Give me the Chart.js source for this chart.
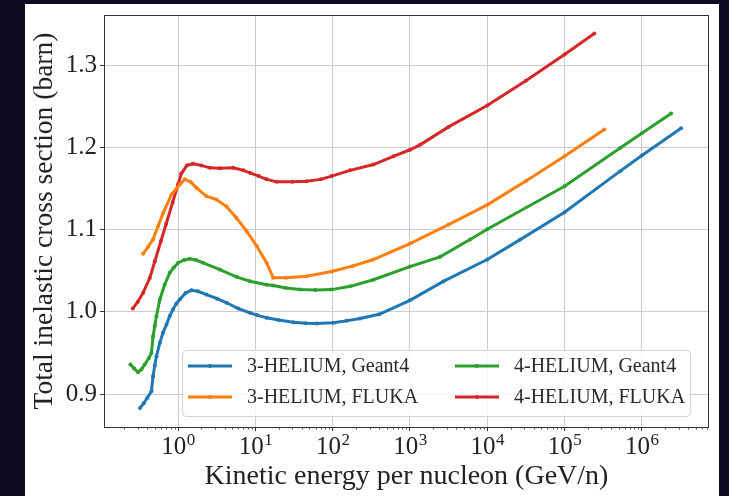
<!DOCTYPE html>
<html>
<head>
<meta charset="utf-8">
<script src="https://cdn.jsdelivr.net/npm/chart.js@4/dist/chart.umd.min.js"></script>
<style>
  html, body { margin: 0; padding: 0; background: #0c0b1f; overflow: hidden; }
  canvas { display: block; }
</style>
</head>
<body>
<canvas id="chart" width="729" height="496"></canvas>
<script>
// Kinetic energy per nucleon (GeV/n) and total inelastic cross section (barn)
const he3Geant4E = [0.322, 0.36, 0.40, 0.452, 0.474, 0.50, 0.525, 0.58, 0.64, 0.708, 0.78, 0.86, 0.95, 1.05, 1.25, 1.49, 1.8, 2.33, 3.2, 4.24, 6.0, 8.5, 10.5, 14, 20, 31, 45, 62, 102, 150, 226, 400, 1000, 2700, 1e4, 2.67e4, 1e5, 5.25e5, 1e6, 3.22e6];
const he3Geant4 = [0.883, 0.889, 0.8955, 0.9035, 0.9217, 0.935, 0.946, 0.9623, 0.975, 0.9846, 0.995, 1.003, 1.010, 1.015, 1.023, 1.0262, 1.025, 1.021, 1.016, 1.011, 1.004, 0.9988, 0.996, 0.9927, 0.990, 0.9874, 0.986, 0.9858, 0.9866, 0.989, 0.992, 0.997, 1.014, 1.037, 1.0636, 1.0878, 1.121, 1.171, 1.190, 1.2231];

const he3FlukaE = [0.352, 0.41, 0.474, 0.55, 0.64, 0.82, 1.05, 1.22, 1.45, 1.73, 2.33, 3.14, 4.24, 5.7, 7.7, 10.4, 14, 17, 25, 46, 97, 180, 336, 1000, 3160, 1e4, 3.16e4, 1e5, 3.27e5];
const he3Fluka = [1.0705, 1.079, 1.088, 1.104, 1.120, 1.1425, 1.1547, 1.161, 1.158, 1.1507, 1.1405, 1.1365, 1.128, 1.114, 1.098, 1.080, 1.0595, 1.0413, 1.0415, 1.0433, 1.049, 1.0555, 1.0636, 1.083, 1.106, 1.130, 1.159, 1.189, 1.2215];

const he4Geant4E = [0.242, 0.27, 0.303, 0.335, 0.371, 0.42, 0.452, 0.474, 0.50, 0.525, 0.58, 0.67, 0.78, 0.88, 1.0, 1.2, 1.42, 1.7, 2.11, 3.47, 5.7, 8.5, 14, 17, 25, 37.7, 60, 97, 170, 336, 1000, 2450, 6000, 1e4, 1e5, 5.25e5, 1e6, 2.39e6];
const he4Geant4 = [0.936, 0.931, 0.9266, 0.930, 0.936, 0.944, 0.950, 0.970, 0.983, 0.9947, 1.015, 1.033, 1.0474, 1.054, 1.0595, 1.063, 1.0644, 1.063, 1.0595, 1.0514, 1.0425, 1.0372, 1.033, 1.032, 1.029, 1.027, 1.0265, 1.027, 1.031, 1.039, 1.055, 1.0668, 1.088, 1.1004, 1.1526, 1.199, 1.217, 1.241];

const he4FlukaE = [0.259, 0.30, 0.352, 0.43, 0.5, 0.6, 0.7, 0.85, 1.0, 1.1, 1.3, 1.56, 2.0, 2.57, 3.5, 5.16, 7.0, 8.5, 11, 14, 18.8, 30, 46, 70, 97, 168, 336, 610, 1000, 1350, 3160, 1e4, 3.16e4, 1e5, 2.43e5];
const he4Fluka = [1.004, 1.012, 1.023, 1.041, 1.0615, 1.086, 1.1068, 1.133, 1.155, 1.168, 1.178, 1.180, 1.178, 1.175, 1.1745, 1.175, 1.172, 1.169, 1.165, 1.161, 1.158, 1.158, 1.1587, 1.161, 1.165, 1.172, 1.179, 1.189, 1.197, 1.203, 1.2248, 1.2507, 1.281, 1.3127, 1.3382];

const seriesLabels = ['3-HELIUM, Geant4', '3-HELIUM, FLUKA', '4-HELIUM, Geant4', '4-HELIUM, FLUKA'];
const xTickValues = [1, 10, 100, 1000, 1e4, 1e5, 1e6];
const yTickValues = [0.9, 1.0, 1.1, 1.2, 1.3];
const xTitle = 'Kinetic energy per nucleon (GeV/n)';
const yTitle = 'Total inelastic cross section (barn)';

const colors = ['#1f77b4', '#ff7f0e', '#2ca02c', '#d62728'];
const SERIF = "'Liberation Serif', 'Times New Roman', serif";

function pairs(xs, ys) { return xs.map((x, i) => ({ x: x, y: ys[i] })); }

const seriesData = [
  pairs(he3Geant4E, he3Geant4),
  pairs(he3FlukaE, he3Fluka),
  pairs(he4Geant4E, he4Geant4),
  pairs(he4FlukaE, he4Fluka)
];

// Page backdrop, axes frame, minor ticks, power-of-ten labels and the legend
const decorations = {
  id: 'decorations',
  beforeDraw(chart) {
    const ctx = chart.ctx;
    ctx.save();
    ctx.fillStyle = '#0c0b1f';
    ctx.fillRect(0, 0, chart.width, chart.height);
    ctx.fillStyle = '#ffffff';
    ctx.fillRect(25, 4, 694, 492);
    ctx.restore();
  },
  afterDraw(chart) {
    const ctx = chart.ctx;
    const a = chart.chartArea;
    const xs = chart.scales.x;
    ctx.save();

    // minor ticks on the log axis
    ctx.strokeStyle = '#333333';
    ctx.lineWidth = 0.8;
    for (let k = -2; k <= 7; k++) {
      for (let m = 2; m <= 9; m++) {
        const v = m * Math.pow(10, k);
        if (v < xs.min || v > xs.max) continue;
        const px = Math.round(xs.getPixelForValue(v)) + 0.5;
        ctx.beginPath();
        ctx.moveTo(px, a.bottom);
        ctx.lineTo(px, a.bottom + 2.5);
        ctx.stroke();
      }
    }

    // frame
    ctx.strokeStyle = '#333333';
    ctx.lineWidth = 1;
    ctx.strokeRect(a.left + 0.5, a.top + 0.5, a.right - a.left - 1, a.bottom - a.top);

    // x tick labels as 10 with a raised exponent
    ctx.fillStyle = '#222222';
    ctx.textBaseline = 'alphabetic';
    ctx.textAlign = 'left';
    xs.ticks.forEach(t => {
      const exp = String(Math.round(Math.log10(t.value)));
      ctx.font = '25px ' + SERIF;
      const w1 = ctx.measureText('10').width;
      ctx.font = '17px ' + SERIF;
      const w2 = ctx.measureText(exp).width;
      const px = xs.getPixelForValue(t.value);
      const start = px - (w1 + w2) / 2;
      ctx.font = '25px ' + SERIF;
      ctx.fillText('10', start, a.bottom + 27);
      ctx.font = '17px ' + SERIF;
      ctx.fillText(exp, start + w1 + 0.5, a.bottom + 18);
    });

    // legend, two columns
    const bx = a.left + 78, by = a.bottom - 77, bw = 508, bh = 66;
    ctx.beginPath();
    if (ctx.roundRect) ctx.roundRect(bx + 0.5, by + 0.5, bw, bh, 4); else ctx.rect(bx + 0.5, by + 0.5, bw, bh);
    ctx.fillStyle = 'rgba(255,255,255,0.8)';
    ctx.fill();
    ctx.strokeStyle = '#d4d4d4';
    ctx.lineWidth = 1;
    ctx.stroke();

    const columns = [[0, 1], [2, 3]];
    const colX = [bx + 6, bx + 273];
    const rowY = [by + 16, by + 47];
    ctx.font = '20px ' + SERIF;
    ctx.textBaseline = 'middle';
    columns.forEach((col, ci) => {
      col.forEach((di, ri) => {
        const ds = chart.data.datasets[di];
        const x0 = colX[ci], y0 = rowY[ri];
        ctx.strokeStyle = ds.borderColor;
        ctx.lineWidth = 3;
        ctx.beginPath();
        ctx.moveTo(x0, y0);
        ctx.lineTo(x0 + 44, y0);
        ctx.stroke();
        ctx.fillStyle = ds.borderColor;
        ctx.beginPath();
        ctx.arc(x0 + 22, y0, 2, 0, Math.PI * 2);
        ctx.fill();
        ctx.fillStyle = '#2a2a2a';
        ctx.fillText(ds.label, x0 + 59, y0 + 1);
      });
    });
    ctx.restore();
  }
};

new Chart(document.getElementById('chart'), {
  type: 'line',
  data: {
    datasets: seriesData.map((d, i) => ({
      label: seriesLabels[i],
      data: d,
      borderColor: colors[i],
      backgroundColor: colors[i],
      pointBackgroundColor: colors[i],
      borderWidth: 3,
      pointRadius: 2,
      pointBorderWidth: 0,
      pointHoverRadius: 0,
      tension: 0,
      fill: false
    }))
  },
  options: {
    responsive: false,
    animation: false,
    events: [],
    layout: { padding: { left: 0, top: 15, right: 20, bottom: 0 } },
    plugins: { legend: { display: false }, tooltip: { enabled: false } },
    scales: {
      x: {
        type: 'logarithmic',
        min: 0.11,
        max: 7.4e6,
        afterBuildTicks: s => { s.ticks = xTickValues.map(v => ({ value: v })); },
        afterFit: s => { s.height = 69; s.paddingLeft = 0; s.paddingRight = 0; },
        ticks: { display: false },
        grid: { color: '#cccccc', lineWidth: 1, drawTicks: true, tickLength: 4, tickColor: '#333333' },
        border: { display: false },
        title: { display: true, text: xTitle, color: '#222222', font: { family: SERIF, size: 28 }, padding: { top: 0, bottom: 3 } }
      },
      y: {
        type: 'linear',
        min: 0.86,
        max: 1.3608,
        afterBuildTicks: s => { s.ticks = yTickValues.map(v => ({ value: v })); },
        afterFit: s => { s.width = 104; s.paddingTop = 0; s.paddingBottom = 0; },
        ticks: { color: '#222222', padding: 3, font: { family: SERIF, size: 25 }, callback: v => Number(v).toFixed(1) },
        grid: { color: '#cccccc', lineWidth: 1, drawTicks: true, tickLength: 4, tickColor: '#333333' },
        border: { display: false },
        title: { display: true, text: yTitle, color: '#222222', font: { family: SERIF, size: 27.5 }, padding: { top: 28, bottom: 0 } }
      }
    }
  },
  plugins: [decorations]
});
</script>
</body>
</html>
